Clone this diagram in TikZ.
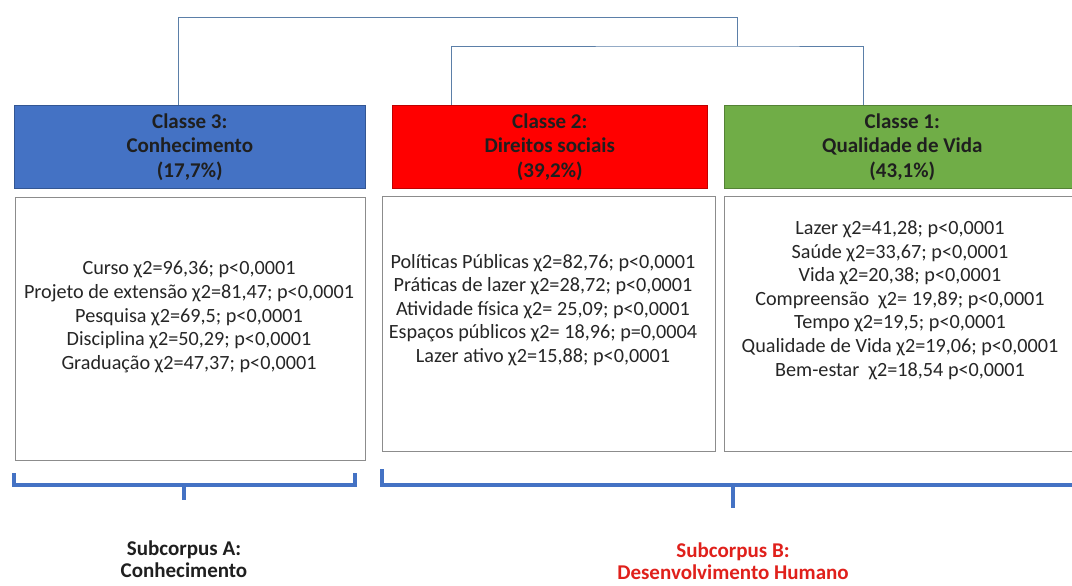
\documentclass[tikz,border=0pt]{standalone}
\usepackage{fontspec}
\setmainfont{Carlito}
\definecolor{cblue}{HTML}{4472C4}
\definecolor{cred}{HTML}{FF0000}
\definecolor{cgreen}{HTML}{70AD47}
\definecolor{dendro}{HTML}{5B7FA8}
\definecolor{bordergray}{HTML}{8C8C8C}
\definecolor{subred}{HTML}{E0201B}
\begin{document}
\begin{tikzpicture}[x=1pt,y=-1pt,
  hdr/.style={draw=#1!75!black, fill=#1, line width=0.6pt, anchor=north west,
    inner sep=0pt, align=center, text=black!88,
    font=\bfseries\fontsize{21}{24.5}\selectfont},
  listbox/.style={draw=bordergray, line width=0.9pt, anchor=north west, inner sep=0pt},
  listtext/.style={align=center, text=black!85, inner sep=0pt,
    font=\fontsize{20.2}{23.6}\selectfont},
  dend/.style={draw=dendro, line width=0.8pt},
  brace/.style={draw=cblue, line width=4pt},
  sub/.style={align=center, inner sep=0pt, font=\bfseries\fontsize{21}{22.5}\selectfont}]
\useasboundingbox (0,0) rectangle (1072,586);
\clip (0,0) rectangle (1072,586);
\fill[white] (0,0) rectangle (1072,586);

% header boxes
\node[hdr=cblue, minimum width=351pt, minimum height=83pt] (c3) at (14,105)
  {Classe 3:\\Conhecimento\\(17,7\%)};
\node[hdr=cred, minimum width=315pt, minimum height=83pt] (c2) at (392,105)
  {Classe 2:\\Direitos sociais\\(39,2\%)};
\node[hdr=cgreen, minimum width=356pt, minimum height=83pt] (c1) at (724,105)
  {Classe 1:\\Qualidade de Vida\\(43,1\%)};

% list boxes
\node[listbox, minimum width=350pt, minimum height=263pt] (b3) at (15,197) {};
\node[listbox, minimum width=333pt, minimum height=255pt] (b2) at (382,196) {};
\node[listbox, minimum width=356pt, minimum height=255pt] (b1) at (724,196) {};

\node[listtext] (t3) at (189,317) {Curso χ2=96,36; p<0,0001\\Projeto de extensão χ2=81,47; p<0,0001\\Pesquisa χ2=69,5; p<0,0001\\Disciplina χ2=50,29; p<0,0001\\Graduação χ2=47,37; p<0,0001};
\node[listtext] (t2) at (543,310) {Políticas Públicas χ2=82,76; p<0,0001\\Práticas de lazer χ2=28,72; p<0,0001\\Atividade física χ2= 25,09; p<0,0001\\Espaços públicos χ2= 18,96; p=0,0004\\Lazer ativo χ2=15,88; p<0,0001};
\node[listtext] (t1) at (900,300) {Lazer χ2=41,28; p<0,0001\\Saúde χ2=33,67; p<0,0001\\Vida χ2=20,38; p<0,0001\\Compreensão\ \ χ2= 19,89; p<0,0001\\Tempo χ2=19,5; p<0,0001\\Qualidade de Vida χ2=19,06; p<0,0001\\Bem-estar\ \ χ2=18,54 p<0,0001};

% dendrogram
\coordinate (d3) at (178,105);
\coordinate (d2) at (451,105);
\coordinate (d1) at (863,105);
\coordinate (top) at (737,17);
\coordinate (j21) at (737,46);
\draw[dend] (d3) |- (top) -- (j21);
\draw[dend] (d2) |- (j21) -| (d1);

% brackets
\coordinate (la) at (14,473);
\coordinate (ra) at (355,473);
\coordinate (ta) at (184,500);
\coordinate (lb) at (382,469);
\coordinate (rb) at (1080,485);
\coordinate (tb) at (733,508);
\draw[brace] (la) -- (la |- 0,485) -- (ra |- 0,485) -- (ra);
\draw[brace] (ta |- 0,485) -- (ta);
\draw[brace] (lb) -- (lb |- rb) -- (rb);
\draw[brace] (tb |- rb) -- (tb);

% subcorpus labels
\node[sub, text=black!88] (sa) at (184,559) {Subcorpus A:\\Conhecimento};
\node[sub, text=subred] (sb) at (733,561) {Subcorpus B:\\Desenvolvimento Humano};
\end{tikzpicture}
\end{document}
